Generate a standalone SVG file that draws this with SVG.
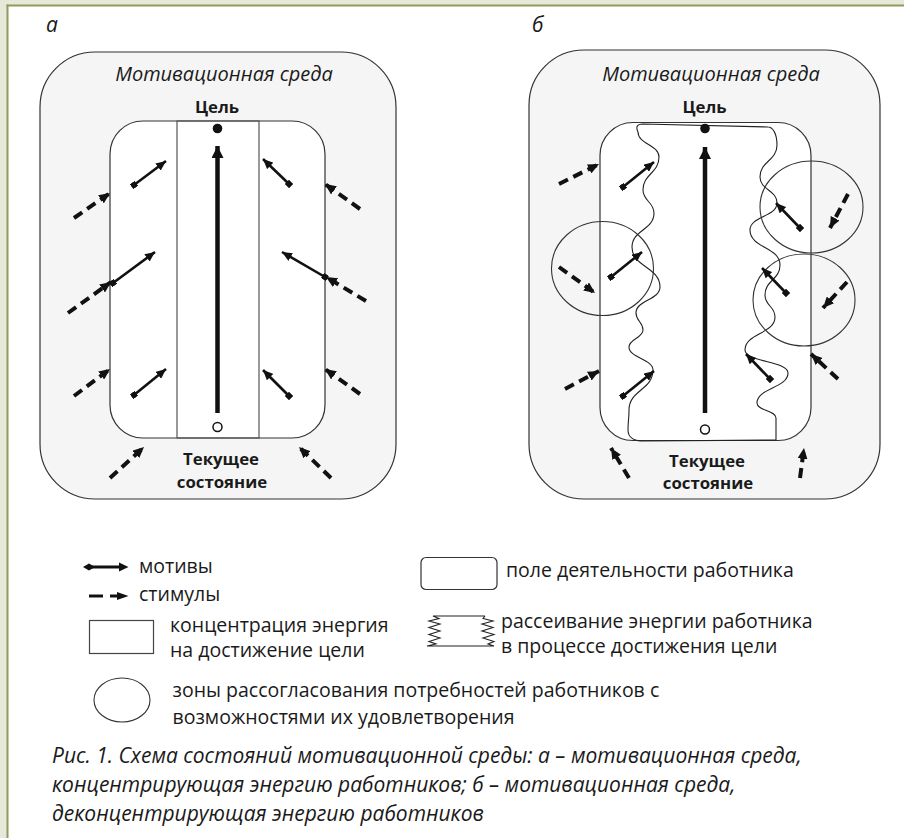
<svg xmlns="http://www.w3.org/2000/svg" width="904" height="838" viewBox="0 0 904 838">
<style>
text{font-family:"Open Sans","Noto Sans","DejaVu Sans",sans-serif;fill:#1a1a1a}
.it{font-style:italic}
.b{font-weight:bold;font-size:16.8px}
.t{font-size:19.5px}
.env{fill:#f5f5f5;stroke:#333;stroke-width:1.2}
.fld{fill:#fff;stroke:#333;stroke-width:1.2}
.conc{fill:none;stroke:#555;stroke-width:1.2}
.mot{stroke:#111;stroke-width:2.6;fill:none;marker-start:url(#mt);marker-end:url(#mh)}
.sti{stroke:#111;stroke-width:4;fill:none;stroke-dasharray:10 6;marker-end:url(#sh)}
.goal{stroke:#111;stroke-width:4.5;fill:none;marker-end:url(#gh)}
.zone{fill:none;stroke:#333;stroke-width:1.1}
.wave{fill:none;stroke:#222;stroke-width:1.1}
</style>
<defs>
<marker id="mh" viewBox="0 0 10 9" refX="10" refY="4.5" markerWidth="10" markerHeight="9" markerUnits="userSpaceOnUse" orient="auto"><path d="M0,0L10,4.5L0,9z" fill="#111"/></marker>
<marker id="mt" viewBox="0 0 6 6" refX="3" refY="3" markerWidth="6" markerHeight="6" markerUnits="userSpaceOnUse" orient="auto"><rect width="6" height="6" fill="#111"/></marker>
<marker id="sh" viewBox="0 0 11 10" refX="11" refY="5" markerWidth="11" markerHeight="10" markerUnits="userSpaceOnUse" orient="auto"><path d="M0,0L11,5L0,10z" fill="#111"/></marker>
<marker id="gh" viewBox="0 0 12 12" refX="12" refY="6" markerWidth="12" markerHeight="12" markerUnits="userSpaceOnUse" orient="auto"><path d="M0,0L12,6L0,12z" fill="#111"/></marker>
</defs>
<rect width="904" height="838" fill="#e7e7da"/>
<rect x="7" y="5" width="897" height="833" fill="#fff"/>
<line x1="7.5" y1="4.5" x2="7.5" y2="838" stroke="#8e9c5c" stroke-width="2"/>
<line x1="6.5" y1="5.5" x2="904" y2="5.5" stroke="#8e9c5c" stroke-width="2"/>

<g id="panel-a">
<text class="it" x="46" y="32" font-size="21">а</text>
<rect class="env" x="40" y="52" width="356" height="447" rx="55"/>
<text class="it" x="224" y="81" font-size="20" text-anchor="middle">Мотивационная среда</text>
<text class="b" x="217" y="113" text-anchor="middle">Цель</text>
<rect class="fld" x="110" y="121" width="215" height="317" rx="33"/>
<rect class="conc" x="177" y="121" width="82" height="317"/>
<text class="b" x="221" y="465" text-anchor="middle">Текущее</text>
<text class="b" x="222" y="488" text-anchor="middle">состояние</text>
</g>

<g id="panel-b">
<text class="it" x="532" y="32" font-size="21">б</text>
<rect class="env" x="529" y="50" width="351" height="449" rx="55"/>
<text class="it" x="711" y="81" font-size="20" text-anchor="middle">Мотивационная среда</text>
<text class="b" x="704.5" y="113" text-anchor="middle">Цель</text>
<rect class="fld" x="600" y="122.5" width="211" height="318" rx="33"/>
<path id="dissipation" class="wave" d="M643,124 C636,124 636,128 638,132 C638,144 659,145 659,157 C659,173 643,174 643,190 C643,201 654,202 654,213 C654,230 632,230 632,247 C632,267 660,267 660,287 C660,300 636,300 636,313 C636,321 643,322 643,330 C643,338 629,339 629,347 C629,358 653,359 653,370 C653,390 629,390 629,410 C629,420 628,420 628,430 C628,438 635,441 643,441 L776,440 L776,418 C776,410 757,411 757,403 C757,388 788,388 788,373 C788,361 745,362 745,350 C745,333 775,334 775,317 C775,306 765,306 765,295 C765,280 780,280 780,265 C780,247 750,248 750,230 C750,216 777,217 777,203 C777,190 760,190 760,177 C760,161 777,161 777,145 C777,134 773,127 768,127 Z"/>
<ellipse id="zone-left" class="zone" cx="602.5" cy="268.5" rx="51" ry="47"/>
<ellipse id="zone-right-top" class="zone" cx="811.5" cy="207" rx="51.5" ry="46"/>
<ellipse id="zone-right-bottom" class="zone" cx="804" cy="300" rx="51" ry="46"/>
<text class="b" x="707" y="466.5" text-anchor="middle">Текущее</text>
<text class="b" x="708" y="488.5" text-anchor="middle">состояние</text>
</g>

<g id="connectors">
<line class="goal" x1="217.5" y1="413" x2="217.5" y2="146"/>
<circle cx="217.5" cy="128.5" r="4.8" fill="#111"/>
<circle cx="217.5" cy="427" r="4.5" fill="#fff" stroke="#111" stroke-width="1.5"/>
<line class="mot" x1="134" y1="185" x2="166" y2="161"/>
<line class="mot" x1="113" y1="283" x2="155" y2="252"/>
<line class="mot" x1="134" y1="395" x2="166" y2="369"/>
<line class="mot" x1="289" y1="184" x2="263" y2="159"/>
<line class="mot" x1="325" y1="277" x2="282" y2="252"/>
<line class="mot" x1="289" y1="396" x2="263" y2="370"/>
<line class="sti" x1="74" y1="218" x2="110" y2="193"/>
<line class="sti" x1="68" y1="313" x2="111" y2="282"/>
<line class="sti" x1="74" y1="396" x2="110" y2="369"/>
<line class="sti" x1="110" y1="478" x2="144" y2="447"/>
<line class="sti" x1="360" y1="209" x2="325" y2="184"/>
<line class="sti" x1="366" y1="301" x2="326" y2="277"/>
<line class="sti" x1="360" y1="394" x2="325" y2="369"/>
<line class="sti" x1="331" y1="478" x2="299" y2="447"/>

<line class="goal" x1="705" y1="413" x2="705" y2="147"/>
<circle cx="705" cy="128.5" r="4.8" fill="#111"/>
<circle cx="705" cy="429.5" r="4.5" fill="#fff" stroke="#111" stroke-width="1.5"/>
<line class="mot" x1="623" y1="187" x2="654" y2="162"/>
<line class="mot" x1="611" y1="277" x2="642" y2="252"/>
<line class="mot" x1="623" y1="396" x2="654" y2="371"/>
<line class="mot" x1="800" y1="228" x2="776" y2="203"/>
<line class="mot" x1="786" y1="293" x2="762" y2="268"/>
<line class="mot" x1="770" y1="379" x2="746" y2="354"/>
<line class="sti" x1="559" y1="184" x2="599" y2="164"/>
<line class="sti" x1="559" y1="267" x2="595" y2="293"/>
<line class="sti" x1="565" y1="389" x2="599" y2="371"/>
<line class="sti" x1="629" y1="478" x2="611" y2="448"/>
<line class="sti" x1="848" y1="194" x2="830" y2="228"/>
<line class="sti" x1="847" y1="282" x2="823" y2="308"/>
<line class="sti" x1="838" y1="379" x2="811" y2="354"/>
<line class="sti" x1="800" y1="478" x2="804" y2="448"/>
</g>

<g id="legend">
<g id="leg-motive">
<line x1="89" y1="567" x2="120" y2="567" stroke="#111" stroke-width="3"/>
<polygon points="83,567 89,563.5 95,567 89,570.5" fill="#111"/>
<polygon points="119,562.5 128.5,567 119,571.5" fill="#111"/>
<text class="t" x="139" y="573">мотивы</text>
</g>
<g id="leg-stimulus">
<line x1="89" y1="596" x2="103" y2="596" stroke="#111" stroke-width="3"/>
<line x1="110" y1="596" x2="118" y2="596" stroke="#111" stroke-width="3"/>
<polygon points="117,592 128.5,596 117,600" fill="#111"/>
<text class="t" x="139" y="601">стимулы</text>
</g>
<g id="leg-concentration">
<rect x="89.5" y="620.5" width="64" height="33" fill="#fff" stroke="#444" stroke-width="1.2"/>
<text class="t" x="170" y="632">концентрация энергия</text>
<text class="t" x="170" y="657">на достижение цели</text>
</g>
<g id="leg-zone">
<ellipse cx="122" cy="700" rx="28" ry="22" fill="none" stroke="#333" stroke-width="1.1"/>
<text class="t" x="172.5" y="697">зоны рассогласования потребностей работников с</text>
<text class="t" x="172.5" y="724">возможностями их удовлетворения</text>
</g>
<g id="leg-field">
<rect x="421" y="557.5" width="76" height="32" rx="5" fill="#fff" stroke="#333" stroke-width="1.2"/>
<text class="t" x="506" y="577">поле деятельности работника</text>
</g>
<g id="leg-dissipation">
<polyline class="wave" points="485,616 433,616 439,618.5 429,621 440,624 429,627.5 440,631 429,634.5 440,638 429,641.5 436,644 427,646 494,646 488,644 494,641.5 483,638 494,634.5 482,631 493,627.5 482,624 493,621 483,618.5 485,616"/>
<text class="t" x="501" y="628">рассеивание энергии работника</text>
<text class="t" x="501" y="653">в процессе достижения цели</text>
</g>
</g>

<g id="caption">
<text class="it" x="52" y="763" font-size="21">Рис. 1. Схема состояний мотивационной среды: а – мотивационная среда,</text>
<text class="it" x="52" y="792" font-size="21">концентрирующая энергию работников; б – мотивационная среда,</text>
<text class="it" x="52" y="821" font-size="21">деконцентрирующая энергию работников</text>
</g>
</svg>
